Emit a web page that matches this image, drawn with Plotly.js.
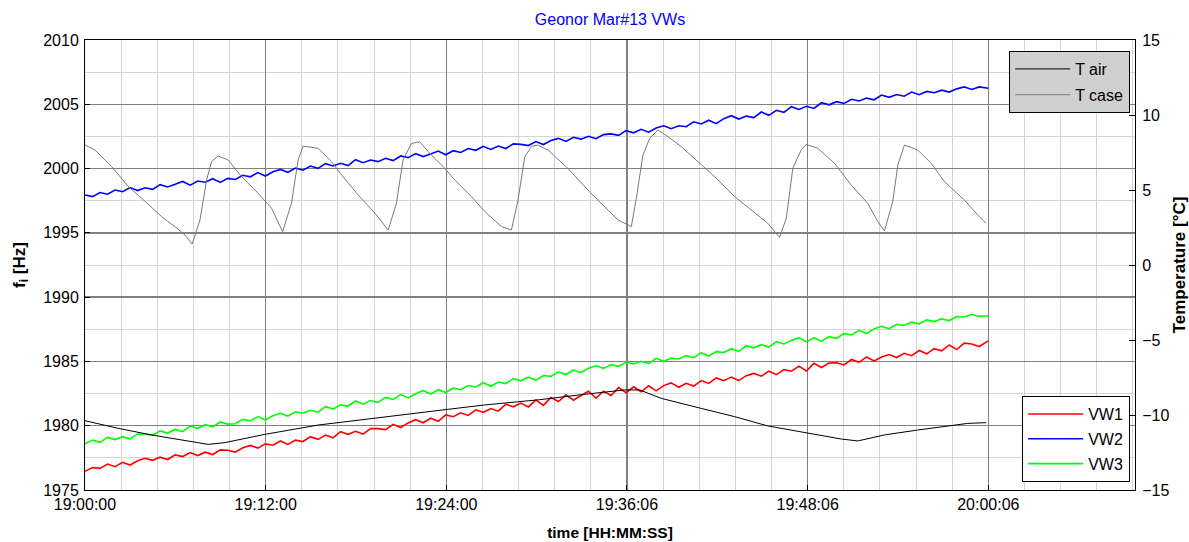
<!DOCTYPE html>
<html>
<head>
<meta charset="utf-8">
<script src="https://cdn.plot.ly/plotly-3.0.1.min.js"></script>
<style>
  html, body { margin: 0; padding: 0; background: #fff; }
  #chart { width: 1189px; height: 542px; }
</style>
</head>
<body>
<div id="chart"></div>
<script>
// ---------------- data (time in minutes after 19:00:00) ----------------
const xTickVals = [0, 12.02, 24.04, 36.06, 48.08, 60.1];
const xTickText = ['19:00:00', '19:12:00', '19:24:00', '19:36:06', '19:48:06', '20:00:06'];

const vwTimeMin = [
  0,0.5,1,1.5,2,2.5,3,3.5,4,4.5,5,5.5,6,6.5,7,7.5,8,8.5,9,9.5,
  10,10.5,11,11.5,12,12.5,13,13.5,14,14.5,15,15.5,16,16.5,17,17.5,18,18.5,19,19.5,
  20,20.5,21,21.5,22,22.5,23,23.5,24,24.5,25,25.5,26,26.5,27,27.5,28,28.5,29,29.5,
  30,30.5,31,31.5,32,32.5,33,33.5,34,34.5,35,35.5,36,36.5,37,37.5,38,38.5,39,39.5,
  40,40.5,41,41.5,42,42.5,43,43.5,44,44.5,45,45.5,46,46.5,47,47.5,48,48.5,49,49.5,
  50,50.5,51,51.5,52,52.5,53,53.5,54,54.5,55,55.5,56,56.5,57,57.5,58,58.5,59,59.5,60.1
];

const vw1Hz = [
  1976.45,1976.74,1976.68,1977.02,1976.81,1977.15,1976.94,1977.28,1977.47,1977.31,
  1977.55,1977.37,1977.73,1977.60,1977.91,1977.68,1977.94,1977.76,1978.12,1978.09,
  1977.95,1978.29,1978.47,1978.26,1978.59,1978.48,1978.81,1978.55,1978.88,1978.77,
  1979.15,1978.94,1979.27,1979.06,1979.54,1979.33,1979.56,1979.35,1979.78,1979.77,
  1979.70,1980.11,1979.86,1980.22,1980.47,1980.23,1980.58,1980.34,1980.84,1980.70,
  1981.00,1980.80,1981.24,1981.04,1981.33,1981.13,1981.67,1981.47,1981.76,1981.46,
  1982.00,1981.58,1982.20,1981.88,1982.40,1981.98,1982.35,1982.68,1982.15,1982.68,
  1982.35,1982.96,1982.57,1983.03,1982.64,1983.10,1982.71,1983.12,1983.33,1982.99,
  1983.30,1983.08,1983.51,1983.29,1983.72,1983.50,1983.78,1983.51,1983.89,1984.07,
  1983.85,1984.24,1983.97,1984.36,1984.24,1984.63,1984.26,1984.85,1984.53,1984.87,
  1984.90,1984.73,1985.15,1984.93,1985.35,1985.03,1985.35,1985.53,1985.30,1985.63,
  1985.45,1985.85,1985.59,1985.99,1985.83,1986.28,1985.92,1986.42,1986.36,1986.16,1986.60
];

const vw2Hz = [
  1997.95,1997.82,1998.14,1998.01,1998.33,1998.20,1998.52,1998.29,1998.51,1998.38,
  1998.75,1998.57,1998.78,1999.00,1998.71,1999.03,1998.94,1999.21,1998.92,1999.24,
  1999.15,1999.48,1999.36,1999.69,1999.42,1999.75,1999.93,1999.71,2000.04,1999.87,
  2000.20,2000.02,2000.38,2000.20,2000.41,2000.23,2000.69,2000.46,2000.67,2000.54,
  2000.80,2000.62,2000.98,2000.85,2001.16,2000.93,2001.14,2001.36,2001.07,2001.39,
  2001.25,2001.56,2001.42,2001.73,2001.49,2001.75,2001.56,2001.92,2001.88,2001.79,
  2002.10,2001.87,2002.18,2002.35,2002.11,2002.43,2002.29,2002.51,2002.32,2002.64,
  2002.70,2002.58,2002.95,2002.78,2003.05,2002.83,2003.15,2003.33,2003.10,2003.33,
  2003.25,2003.64,2003.47,2003.76,2003.49,2003.88,2004.11,2003.85,2004.08,2003.97,
  2004.40,2004.14,2004.53,2004.37,2004.81,2004.60,2004.84,2004.68,2005.12,2004.96,
  2005.20,2005.07,2005.39,2005.26,2005.48,2005.35,2005.72,2005.54,2005.76,2005.63,
  2005.95,2005.75,2006.00,2005.90,2006.10,2005.95,2006.20,2006.35,2006.15,2006.35,2006.25
];

const vw3Hz = [
  1978.60,1978.88,1978.71,1979.09,1978.92,1979.15,1978.98,1979.36,1979.34,1979.27,
  1979.60,1979.43,1979.71,1979.54,1979.97,1979.80,1980.08,1979.91,1980.29,1980.12,
  1980.15,1980.49,1980.37,1980.71,1980.44,1980.78,1980.96,1980.75,1981.08,1980.97,
  1981.20,1981.05,1981.49,1981.29,1981.63,1981.53,1981.92,1981.67,1981.96,1981.81,
  1982.20,1982.04,1982.42,1982.16,1982.49,1982.73,1982.46,1982.80,1982.58,1982.92,
  1982.80,1983.13,1983.01,1983.34,1983.07,1983.40,1983.28,1983.66,1983.49,1983.77,
  1983.55,1983.90,1983.84,1984.19,1983.98,1984.33,1984.12,1984.47,1984.66,1984.46,
  1984.75,1984.62,1984.93,1984.80,1985.01,1984.83,1985.24,1985.01,1985.27,1985.19,
  1985.45,1985.29,1985.68,1985.42,1985.76,1985.70,1985.99,1985.78,1986.22,1986.06,
  1986.30,1986.12,1986.54,1986.36,1986.63,1986.85,1986.52,1986.84,1986.56,1986.93,
  1986.80,1987.16,1987.06,1987.42,1987.17,1987.53,1987.73,1987.54,1987.89,1987.80,
  1988.05,1987.92,1988.23,1988.10,1988.31,1988.18,1988.49,1988.46,1988.67,1988.49,1988.55
];

const tairTimeMin = [0,2.21,4.43,6.65,8.20,9.31,11.97,15.51,19.95,24.16,26.60,30.25,33.24,35.90,36.90,
  38.34,41.00,43.22,45.43,48.09,50.31,51.42,53.19,55.41,57.63,58.73,59.95];
const tairC = [-10.38,-10.89,-11.33,-11.71,-11.96,-11.84,-11.29,-10.67,-10.11,-9.62,-9.33,-8.98,-8.62,-8.33,-8.33,
  -8.89,-9.56,-10.11,-10.73,-11.22,-11.60,-11.73,-11.33,-11.00,-10.73,-10.56,-10.51];

const tcaseTimeMin = [0,0.66,1.78,2.86,3.99,5.10,5.98,6.65,7.13,7.65,8.09,8.42,8.86,9.53,10.42,11.52,12.41,13.15,13.74,14.18,
  14.51,15.51,16.40,17.07,18.17,19.28,20.17,20.72,21.16,21.72,22.27,22.83,23.94,24.60,25.71,26.60,27.71,28.37,28.81,29.26,
  29.70,30.10,30.80,32.13,33.46,34.36,35.46,36.35,36.68,37.12,37.57,38.12,38.78,39.67,40.78,41.89,43.22,44.33,45.43,46.21,
  46.66,47.09,47.65,47.98,48.76,49.87,50.98,52.08,52.75,53.19,53.74,54.08,54.52,55.40,56.30,57.18,58.51,59.40,59.95];
const tcaseC = [8.0,7.67,6.56,5.25,4.25,3.22,2.56,2.0,1.4,3.0,5.67,6.9,7.27,7.0,5.89,4.78,3.78,2.22,4.13,7.0,
  7.93,7.78,6.89,6.0,4.67,3.47,2.33,4.11,7.0,8.1,8.22,7.56,6.44,5.67,4.56,3.56,2.56,2.33,4.33,7.22,
  7.89,8.0,7.67,6.44,5.0,4.11,3.0,2.56,4.44,7.33,8.44,9.0,8.56,7.89,6.89,5.89,4.56,3.67,2.78,1.84,
  3.11,6.44,7.67,8.04,7.78,6.78,5.33,4.11,2.89,2.27,4.22,6.67,8.0,7.67,6.78,5.56,4.33,3.33,2.78];

// ---------------- style ----------------
const FONT = '"Liberation Sans", Arial, sans-serif';

const traces = [
  {x: tairTimeMin, y: tairC, name: 'T air', yaxis: 'y2', mode: 'lines',
   line: {color: '#000000', width: 1}, legend: 'legend', legendgroup: 'a'},
  {x: tcaseTimeMin, y: tcaseC, name: 'T case', yaxis: 'y2', mode: 'lines',
   line: {color: '#7a7a7a', width: 1}, legend: 'legend', legendgroup: 'b'},
  {x: vwTimeMin, y: vw1Hz, name: 'VW1', yaxis: 'y', mode: 'lines',
   line: {color: '#ff0000', width: 1.6}, legend: 'legend2', legendgroup: 'c'},
  {x: vwTimeMin, y: vw2Hz, name: 'VW2', yaxis: 'y', mode: 'lines',
   line: {color: '#0000ff', width: 1.6}, legend: 'legend2', legendgroup: 'd'},
  {x: vwTimeMin, y: vw3Hz, name: 'VW3', yaxis: 'y', mode: 'lines',
   line: {color: '#00ff00', width: 1.6}, legend: 'legend2', legendgroup: 'e'}
];

const layout = {
  width: 1189, height: 542,
  margin: {l: 85, r: 54, t: 40, b: 52, pad: 0},
  paper_bgcolor: '#ffffff', plot_bgcolor: '#ffffff',
  font: {family: FONT, size: 16, color: '#000000'},
  showlegend: true,
  title: {text: 'Geonor Mar#13 VWs', font: {family: FONT, size: 16, color: '#0000ff'},
          x: 0.5, xref: 'paper', xanchor: 'center', y: 1 - 19/542, yref: 'container', yanchor: 'middle'},
  xaxis: {
    range: [0, 69.86], tickmode: 'array', tickvals: xTickVals, ticktext: xTickText,
    ticks: 'inside', ticklen: 5, tickcolor: '#000', showline: true, linecolor: '#000', linewidth: 1,
    mirror: true, showgrid: true, gridcolor: '#808080', gridwidth: 1.5, zeroline: false,
    minor: {tickmode: 'linear', tick0: 0, dtick: 12.02/5, showgrid: true, gridcolor: '#d4d4d4', gridwidth: 1, ticks: ''},
    tickfont: {family: FONT, size: 16},
    title: {text: '<b>time [HH:MM:SS]</b>', font: {family: FONT, size: 15.5}, standoff: 14}
  },
  yaxis: {
    range: [1975, 2010], tickmode: 'linear', tick0: 1975, dtick: 5,
    ticks: 'inside', ticklen: 5, tickcolor: '#000', showline: true, linecolor: '#000', linewidth: 1,
    showgrid: true, gridcolor: '#808080', gridwidth: 1.5, zeroline: false,
    minor: {tickmode: 'linear', tick0: 1975, dtick: 2.5, showgrid: true, gridcolor: '#d4d4d4', gridwidth: 1, ticks: ''},
    tickfont: {family: FONT, size: 16}, ticklabelstandoff: 2,
    title: {text: '<b>f<sub>i</sub> [Hz]</b>', font: {family: FONT, size: 17}, standoff: 13}
  },
  yaxis2: {
    range: [-15, 15], tickmode: 'linear', tick0: -15, dtick: 5, overlaying: 'y', side: 'right',
    ticks: 'inside', ticklen: 6, tickcolor: '#000', showline: true, linecolor: '#000', linewidth: 1,
    showgrid: false, zeroline: false,
    tickfont: {family: FONT, size: 16}, ticklabelstandoff: 3,
    title: {text: '<b>Temperature [°C]</b>', font: {family: FONT, size: 17}, standoff: 7}
  },
  legend: {
    x: 0.9952, xanchor: 'right', y: 0.976, yanchor: 'top',
    bgcolor: '#d0d0d0', bordercolor: '#000', borderwidth: 1.2,
    font: {family: FONT, size: 16}, itemwidth: 55, tracegroupgap: 2
  },
  legend2: {
    x: 0.9952, xanchor: 'right', y: 0.018, yanchor: 'bottom',
    bgcolor: '#ffffff', bordercolor: '#000', borderwidth: 1.2,
    font: {family: FONT, size: 16}, itemwidth: 55, tracegroupgap: 1
  }
};

Plotly.newPlot('chart', traces, layout, {displayModeBar: false, staticPlot: true});
</script>
</body>
</html>
